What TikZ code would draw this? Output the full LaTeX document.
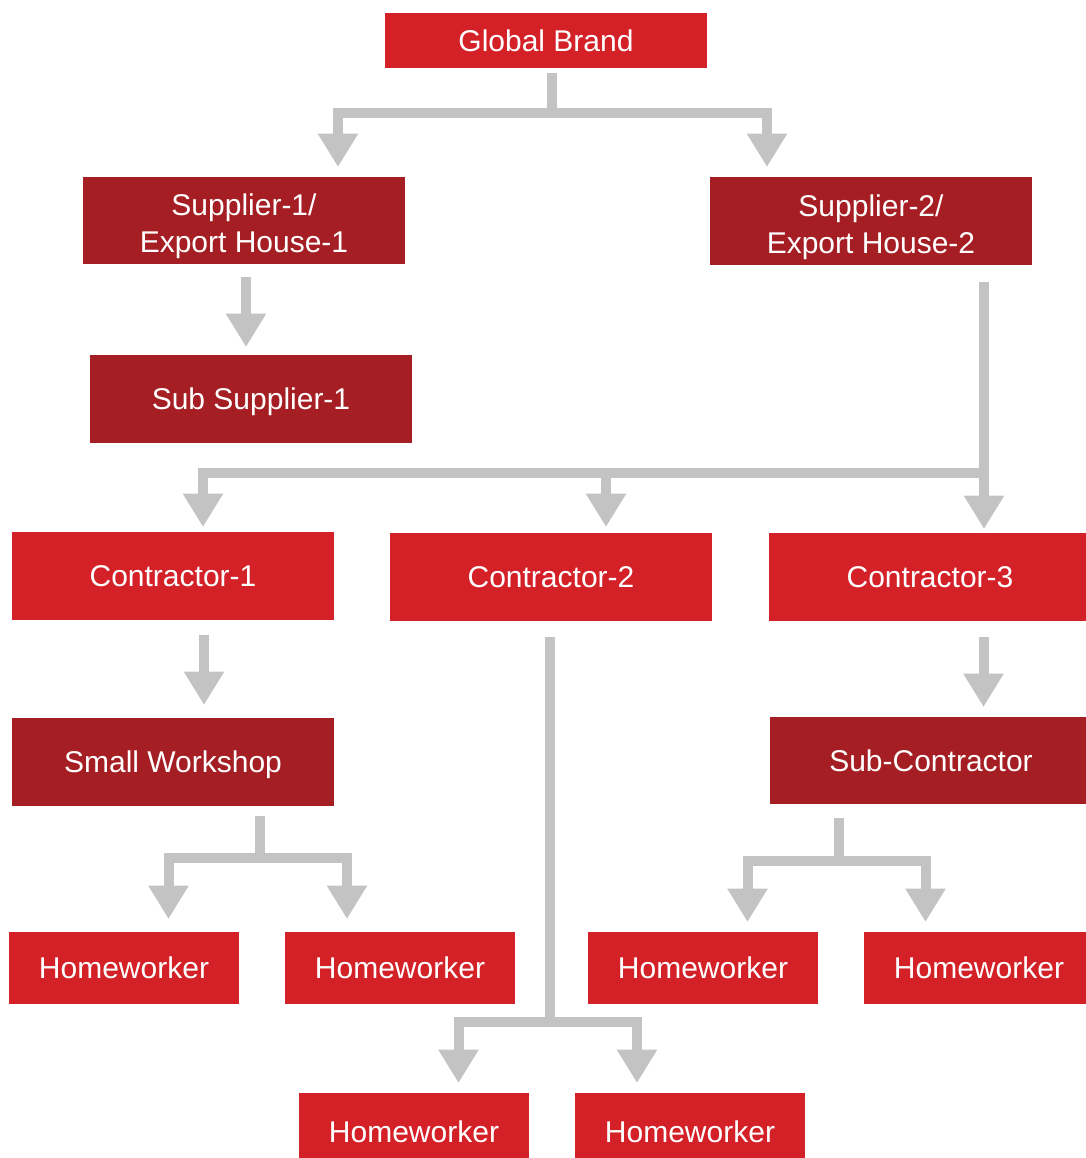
\documentclass[tikz,border=0pt]{standalone}
\usepackage{fontspec}
\setmainfont{Liberation Sans}
\usetikzlibrary{arrows.meta}
\definecolor{bright}{HTML}{D42027}
\definecolor{darkred}{HTML}{A51E23}
\definecolor{cgray}{HTML}{C4C3C3}
\begin{document}
\begin{tikzpicture}[x=0.75pt,y=-0.75pt,
  box/.style={rectangle, inner sep=0pt, text=white, align=center,
    text height=17pt, text depth=1pt,
    font=\fontsize{22.5pt}{27.75pt}\selectfont},
  twoline/.style={text height=48.5pt, text depth=0pt},
  brightbox/.style={box, fill=bright},
  darkbox/.style={box, fill=darkred},
  bw/.style={minimum width=#1*0.75pt},
  bh/.style={minimum height=#1*0.75pt},
  conn/.style={draw=cgray, line width=7.5pt},
  bar/.style={conn, line cap=rect},
  arr/.style={conn, -{Triangle[width=28.5pt,length=25pt]}}]
\useasboundingbox (0,0) rectangle (1086,1158);
\clip (0,0) rectangle (1086,1158);

% nodes
\node[brightbox, bw=322, bh=55] (gb) at (546,40.5) {Global Brand};
\node[darkbox, twoline, bw=322, bh=87] (s1) at (244,220.5) {Supplier-1/\\Export House-1};
\node[darkbox, twoline, bw=322, bh=88] (s2) at (871,221) {Supplier-2/\\Export House-2};
\node[darkbox, bw=322, bh=88] (ss1) at (251,399) {Sub Supplier-1};
\node[brightbox, bw=322, bh=88] (c1) at (173,576) {Contractor-1};
\node[brightbox, bw=322, bh=88] (c2) at (551,577) {Contractor-2};
\node[brightbox, bw=322, bh=88] (c3) at (930,577) {Contractor-3};
\node[darkbox, bw=322, bh=88] (sw) at (173,762) {Small Workshop};
\node[darkbox, bw=322, bh=87] (sc) at (931,760.5) {Sub-Contractor};
\node[brightbox, bw=230, bh=72] (h1) at (124,968) {Homeworker};
\node[brightbox, bw=230, bh=72] (h2) at (400,968) {Homeworker};
\node[brightbox, bw=230, bh=72] (h3) at (703,968) {Homeworker};
\node[brightbox, bw=230, bh=72] (h4) at (979,968) {Homeworker};
\node[brightbox, bw=230, bh=78] (h5) at (414,1132) {Homeworker};
\node[brightbox, bw=230, bh=78] (h6) at (690,1132) {Homeworker};

% coordinates for connectors
\coordinate (gbo) at (552,73);
\coordinate (gbj) at (552,113);
\coordinate (gbl) at (338,113);
\coordinate (gbr) at (767,113);
\coordinate (s1in) at (338,167);
\coordinate (s2in) at (767,167);

\coordinate (s1o) at (246,277);
\coordinate (ss1in) at (246,347);

\coordinate (s2o) at (984,282);
\coordinate (s2j) at (984,473);
\coordinate (cl) at (203,473);
\coordinate (cm) at (606,473);
\coordinate (c1in) at (203,527);
\coordinate (c2in) at (606,527);
\coordinate (c3in) at (984,529);

\coordinate (c1o) at (204,635);
\coordinate (swin) at (204,705);
\coordinate (c3o) at (983.5,637);
\coordinate (scin) at (983.5,707);

\coordinate (swo) at (260,816);
\coordinate (swj) at (260,858);
\coordinate (swl) at (168.5,858);
\coordinate (swr) at (347,858);
\coordinate (h1in) at (168.5,919);
\coordinate (h2in) at (347,919);

\coordinate (sco) at (838.5,818);
\coordinate (scj) at (838.5,861);
\coordinate (scl) at (747.5,861);
\coordinate (scr) at (925.5,861);
\coordinate (h3in) at (747.5,922);
\coordinate (h4in) at (925.5,922);

\coordinate (c2o) at (550,637);
\coordinate (c2j) at (550,1022);
\coordinate (c2l) at (458.5,1022);
\coordinate (c2r) at (637,1022);
\coordinate (h5in) at (458.5,1083);
\coordinate (h6in) at (637,1083);

% connectors
\draw[conn] (gbo) -- (gbj);
\draw[bar] (gbl) -- (gbr);
\draw[arr] (gbl) -- (s1in);
\draw[arr] (gbr) -- (s2in);

\draw[arr] (s1o) -- (ss1in);

\draw[conn] (s2o) -- (s2j);
\draw[bar] (cl) -- (s2j);
\draw[arr] (cl) -- (c1in);
\draw[arr] (cm) -- (c2in);
\draw[arr] (s2j) -- (c3in);

\draw[arr] (c1o) -- (swin);
\draw[arr] (c3o) -- (scin);

\draw[conn] (swo) -- (swj);
\draw[bar] (swl) -- (swr);
\draw[arr] (swl) -- (h1in);
\draw[arr] (swr) -- (h2in);

\draw[conn] (sco) -- (scj);
\draw[bar] (scl) -- (scr);
\draw[arr] (scl) -- (h3in);
\draw[arr] (scr) -- (h4in);

\draw[conn] (c2o) -- (c2j);
\draw[bar] (c2l) -- (c2r);
\draw[arr] (c2l) -- (h5in);
\draw[arr] (c2r) -- (h6in);
\end{tikzpicture}
\end{document}
